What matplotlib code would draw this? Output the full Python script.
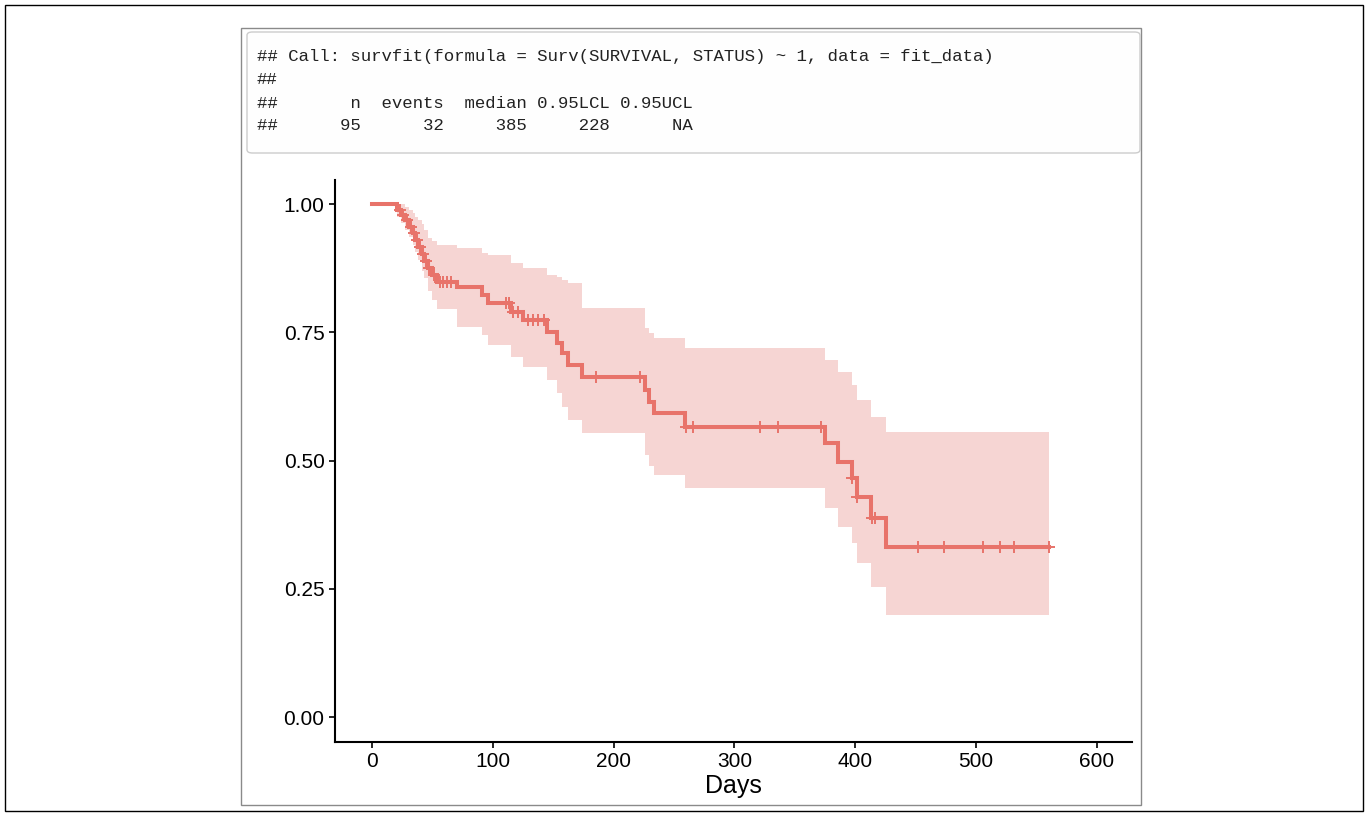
import numpy as np
import matplotlib.pyplot as plt
from matplotlib.patches import Rectangle, FancyBboxPatch

# Kaplan-Meier estimate
event_days = [21, 24, 27, 31, 34, 36, 38, 41, 43, 46, 50, 54, 70, 91, 96, 115, 125,
              145, 153, 157, 162, 174, 226, 229, 233, 259, 375, 386, 397, 401, 413, 425]
surv = [0.989, 0.979, 0.968, 0.956, 0.943, 0.930, 0.917, 0.903, 0.889, 0.876, 0.862, 0.848,
        0.838, 0.823, 0.807, 0.789, 0.774, 0.751, 0.729, 0.709, 0.686, 0.663, 0.637, 0.614,
        0.592, 0.565, 0.534, 0.497, 0.466, 0.429, 0.388, 0.331]
lower = [0.975, 0.963, 0.950, 0.935, 0.920, 0.906, 0.890, 0.870, 0.855, 0.830, 0.812, 0.795,
         0.760, 0.745, 0.725, 0.702, 0.682, 0.657, 0.632, 0.604, 0.579, 0.554, 0.511, 0.490,
         0.472, 0.446, 0.407, 0.370, 0.339, 0.300, 0.253, 0.199]
upper = [1.000, 1.000, 0.995, 0.988, 0.982, 0.975, 0.969, 0.962, 0.950, 0.934, 0.928, 0.920,
         0.914, 0.905, 0.901, 0.885, 0.875, 0.862, 0.858, 0.852, 0.846, 0.797, 0.758, 0.748,
         0.739, 0.719, 0.696, 0.673, 0.647, 0.618, 0.585, 0.556]
censor_days = [23, 26, 29, 32, 35, 37, 39.5, 42, 44.5, 47.5, 51, 56, 59, 62, 65,
               111, 113, 117, 121, 129, 133, 137, 142, 185, 222, 260, 266, 321, 336,
               372, 397.5, 401.5, 414, 416, 452, 473, 506, 520, 531, 560]
last_day = 560

x_ticks = [0, 100, 200, 300, 400, 500, 600]
y_ticks = [0.00, 0.25, 0.50, 0.75, 1.00]

code_lines = [
    "## Call: survfit(formula = Surv(SURVIVAL, STATUS) ~ 1, data = fit_data)",
    "##",
    "##       n  events  median 0.95LCL 0.95UCL",
    "##      95      32     385     228      NA",
]

W, H = 1368, 815
fig = plt.figure(figsize=(W / 100, H / 100), dpi=100)


def fx(px):
    return px / W


def fy(py):
    return 1 - py / H


# frames
fig.patches.append(Rectangle((fx(5), fy(811)), fx(1363) - fx(5), fy(5) - fy(811),
                             transform=fig.transFigure, fill=False, ec='black', lw=1.0))
fig.patches.append(Rectangle((fx(241), fy(805)), fx(1141) - fx(241), fy(28) - fy(805),
                             transform=fig.transFigure, fill=False, ec='#8a8a8a', lw=1.0))
fig.patches.append(FancyBboxPatch((fx(247), fy(153)), fx(1140) - fx(247), fy(32) - fy(153),
                                  boxstyle='round,pad=0,rounding_size=0.004',
                                  transform=fig.transFigure, fc='#fefefe', ec='#cccccc', lw=1.0))

for i, line in enumerate(code_lines):
    fig.text(fx(257), fy(57 + 23 * i), line, family='Liberation Mono', fontsize=12.5,
             color='#222222', va='center', ha='left')

ax = fig.add_axes([fx(335), fy(742), fx(1132) - fx(335), fy(180) - fy(742)])

t = np.r_[0, event_days, last_day]
s = np.r_[1.0, surv, surv[-1]]
lo = np.r_[1.0, lower, lower[-1]]
hi = np.r_[1.0, upper, upper[-1]]

ax.fill_between(t, lo, hi, step='post', color='#F6D5D3', lw=0)
ax.step(t, s, where='post', color='#E8736A', lw=2.9, solid_joinstyle='miter')
idx = np.searchsorted(t, censor_days, side='right') - 1
ax.plot(censor_days, s[idx], ls='none', marker='+', ms=9, mew=1.4, color='#E8736A')

ax.set_xlim(-30.6, 629)
ax.set_ylim(-0.0487, 1.0468)
ax.set_xticks(x_ticks)
ax.set_yticks(y_ticks)
ax.set_yticklabels([f"{v:.2f}" for v in y_ticks])

for side in ['top', 'right']:
    ax.spines[side].set_visible(False)
for side in ['left', 'bottom']:
    ax.spines[side].set_linewidth(1.5)
    ax.spines[side].set_color('black')

ax.tick_params(length=4.5, width=1.2, color='black', labelsize=15, labelcolor='black', pad=3)
for lab in ax.get_xticklabels() + ax.get_yticklabels():
    lab.set_family('Liberation Sans')
ax.set_xlabel('Days', family='Liberation Sans', fontsize=18, labelpad=2)

fig.savefig('out.png', dpi=100)
